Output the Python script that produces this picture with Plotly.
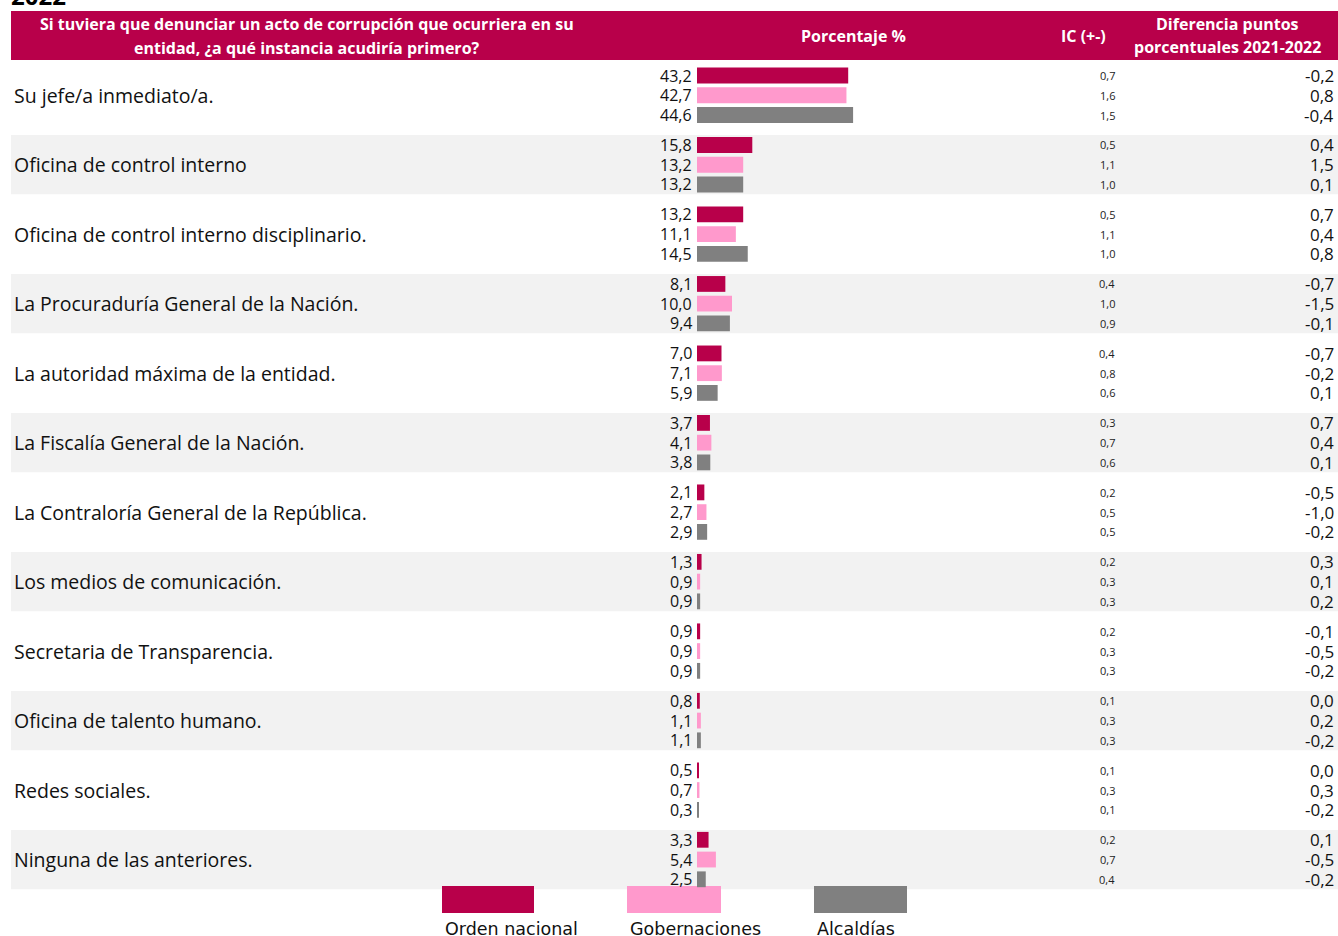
import plotly.graph_objects as go

# ---------------- data ----------------
categories = [
    "Su jefe/a inmediato/a.",
    "Oficina de control interno",
    "Oficina de control interno disciplinario.",
    "La Procuraduría General de la Nación.",
    "La autoridad máxima de la entidad.",
    "La Fiscalía General de la Nación.",
    "La Contraloría General de la República.",
    "Los medios de comunicación.",
    "Secretaria de Transparencia.",
    "Oficina de talento humano.",
    "Redes sociales.",
    "Ninguna de las anteriores.",
]
series_names = ["Orden nacional", "Gobernaciones", "Alcaldías"]
orden_nacional = [43.2, 15.8, 13.2, 8.1, 7.0, 3.7, 2.1, 1.3, 0.9, 0.8, 0.5, 3.3]
gobernaciones = [42.7, 13.2, 11.1, 10.0, 7.1, 4.1, 2.7, 0.9, 0.9, 1.1, 0.7, 5.4]
alcaldias = [44.6, 13.2, 14.5, 9.4, 5.9, 3.8, 2.9, 0.9, 0.9, 1.1, 0.3, 2.5]

ic_orden = [0.7, 0.5, 0.5, 0.4, 0.4, 0.3, 0.2, 0.2, 0.2, 0.1, 0.1, 0.2]
ic_gob = [1.6, 1.1, 1.1, 1.0, 0.8, 0.7, 0.5, 0.3, 0.3, 0.3, 0.3, 0.7]
ic_alc = [1.5, 1.0, 1.0, 0.9, 0.6, 0.6, 0.5, 0.3, 0.3, 0.3, 0.1, 0.4]

dif_orden = [-0.2, 0.4, 0.7, -0.7, -0.7, 0.7, -0.5, 0.3, -0.1, 0.0, 0.0, 0.1]
dif_gob = [0.8, 1.5, 0.4, -1.5, -0.2, 0.4, -1.0, 0.1, -0.5, 0.2, 0.3, -0.5]
dif_alc = [-0.4, 0.1, 0.8, -0.1, 0.1, 0.1, -0.2, 0.2, -0.2, -0.2, -0.2, -0.2]

header_question = ["Si tuviera que denunciar un acto de corrupción que ocurriera en su",
                   "entidad, ¿a qué instancia acudiría primero?"]
header_pct = "Porcentaje %"
header_ic = "IC (+-)"
header_dif = ["Diferencia puntos", "porcentuales 2021-2022"]
top_title = "2022"

# ---------------- styling / layout ----------------
W, H = 1338, 936
colors = ["#B8004A", "#FF99CC", "#808080"]
band_color = "#F2F2F2"
FONT = "Open Sans"
TXT = "#111111"

SLOT = 19.75         # px per bar slot
FIRST_Y = 75.5       # px of first bar centre
GROUP = 3.518        # slots per group (3 bars + gap)
ZERO_X = 697         # px of bar baseline
PX_PER_UNIT = 3.5    # px per percentage point


def fmt(v):
    return f"{v:.1f}".replace(".", ",")


def px_x(p):
    return p / W


def px_y(p):
    return 1 - p / H


series = [orden_nacional, gobernaciones, alcaldias]
ics = [ic_orden, ic_gob, ic_alc]
difs = [dif_orden, dif_gob, dif_alc]

fig = go.Figure()
shapes = []
annotations = []

for j, (name, vals, col) in enumerate(zip(series_names, series, colors)):
    ypos = [i * GROUP + j for i in range(len(categories))]
    fig.add_trace(go.Bar(
        x=vals, y=ypos, orientation="h", name=name,
        marker=dict(color=col, line=dict(width=0)), width=0.8,
        showlegend=False, hoverinfo="x",
    ))
    for v, yy in zip(vals, ypos):
        annotations.append(dict(text=fmt(v), xref="x", yref="y", x=0, y=yy,
                                xanchor="right", yanchor="middle", xshift=-3,
                                showarrow=False,
                                font=dict(family=FONT, size=16, color=TXT)))

# alternating bands
for i in range(len(categories)):
    if i % 2 == 1:
        shapes.append(dict(type="rect", xref="paper", yref="y",
                           x0=px_x(11), x1=1, y0=i * GROUP - 0.5, y1=i * GROUP + 2.5,
                           fillcolor=band_color, line=dict(width=0), layer="below"))

# header band
shapes.append(dict(type="rect", xref="paper", yref="paper",
                   x0=px_x(11), x1=1, y0=px_y(60), y1=px_y(11),
                   fillcolor=colors[0], line=dict(width=0), layer="below"))

hdr_font = dict(family=FONT, size=16, color="white", weight="bold")


def hdr(text, x, y):
    annotations.append(dict(text=text, xref="paper", yref="paper",
                            x=px_x(x), y=px_y(y), xanchor="center", yanchor="middle",
                            showarrow=False, font=hdr_font))


hdr(header_question[0], 307, 24)
hdr(header_question[1], 307, 48)
hdr(header_pct, 853, 36)
hdr(header_ic, 1083, 36)
hdr(header_dif[0], 1227, 24)
hdr(header_dif[1], 1227, 47)

# cut-off title at the very top
annotations.append(dict(text=top_title, xref="paper", yref="paper",
                        x=px_x(9), y=px_y(0), xanchor="left", yanchor="bottom", yshift=-14,
                        showarrow=False,
                        font=dict(family=FONT, size=24, color="black", weight="bold")))

# category labels, IC and difference columns
for i, cat in enumerate(categories):
    annotations.append(dict(text=cat, xref="paper", yref="y",
                            x=px_x(12), y=i * GROUP + 1, xanchor="left", yanchor="middle",
                            showarrow=False,
                            font=dict(family=FONT, size=19.5, color=TXT)))
    for j in range(3):
        yy = i * GROUP + j
        annotations.append(dict(text=fmt(ics[j][i]), xref="paper", yref="y",
                                x=px_x(1107), y=yy, xanchor="center", yanchor="middle",
                                showarrow=False,
                                font=dict(family=FONT, size=11, color="#222222")))
        annotations.append(dict(text=fmt(difs[j][i]), xref="paper", yref="y",
                                x=px_x(1336), y=yy, xanchor="right", yanchor="middle",
                                showarrow=False,
                                font=dict(family=FONT, size=17, color=TXT)))

# legend (drawn manually)
leg_boxes = [(442, 534), (627, 721), (814, 907)]
for (x0, x1), col, name in zip(leg_boxes, colors, series_names):
    shapes.append(dict(type="rect", xref="paper", yref="paper",
                       x0=px_x(x0), x1=px_x(x1), y0=px_y(913), y1=px_y(886),
                       fillcolor=col, line=dict(width=0), layer="below"))
    annotations.append(dict(text=name, xref="paper", yref="paper",
                            x=px_x(x0 + 1), y=px_y(929), xanchor="left", yanchor="middle",
                            showarrow=False,
                            font=dict(family="DejaVu Sans", size=17.5, color=TXT)))

y_top = -FIRST_Y / SLOT
y_bot = (H - FIRST_Y) / SLOT
x_left = -ZERO_X / PX_PER_UNIT
x_right = (W - ZERO_X) / PX_PER_UNIT

fig.update_layout(
    width=W, height=H, autosize=False,
    margin=dict(l=0, r=0, t=0, b=0, pad=0),
    paper_bgcolor="white", plot_bgcolor="rgba(0,0,0,0)",
    barmode="overlay",
    xaxis=dict(range=[x_left, x_right], visible=False, fixedrange=True),
    yaxis=dict(range=[y_bot, y_top], visible=False, fixedrange=True),
    shapes=shapes, annotations=annotations,
    font=dict(family=FONT),
)

fig.write_html("out.html", config={"displayModeBar": False},
               post_script="document.body.style.margin='0';document.body.style.overflow='hidden';")
